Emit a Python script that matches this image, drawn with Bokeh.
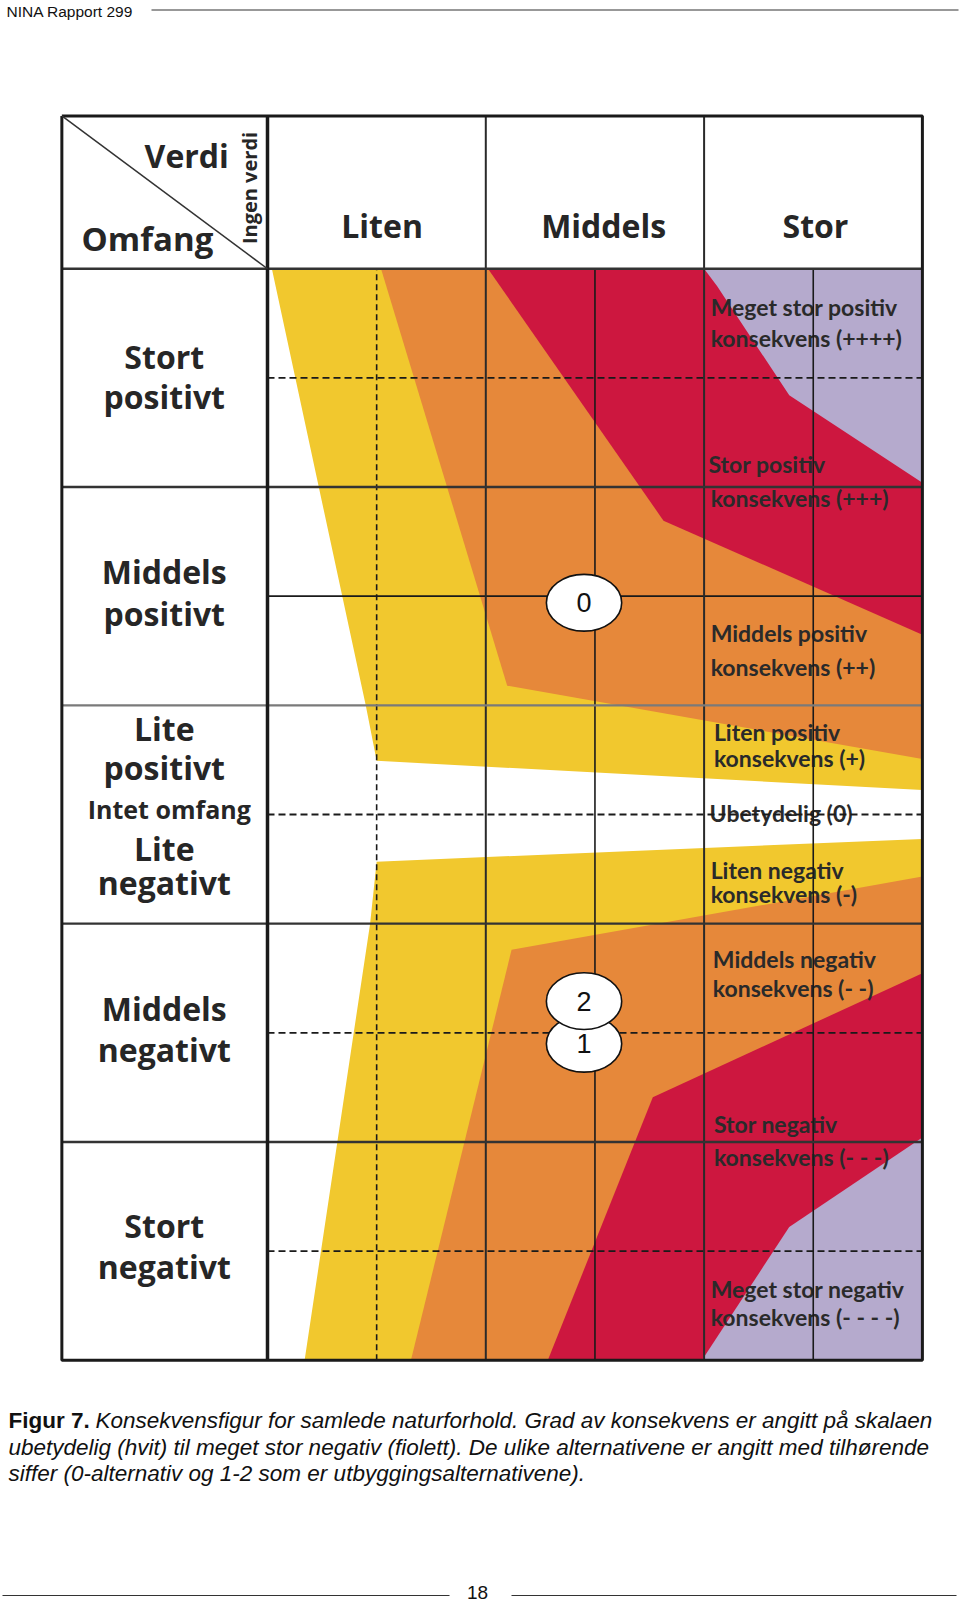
import math
from bokeh.plotting import figure
from bokeh.models import Range1d
from bokeh.core.properties import value
from bokeh.embed import file_html
from bokeh.resources import INLINE

# ---------------- data (grid units: 1 column = 1 x unit, 1 row = 1 y unit) ----------------
verdi_labels = ["Liten", "Middels", "Stor"]
verdi_label_x = [0.525, 1.54, 2.51]

omfang_labels = ["Stort", "positivt", "Middels", "positivt", "Lite", "positivt",
                 "Lite", "negativt", "Middels", "negativt", "Stort", "negativt"]
omfang_label_y = [2.10, 1.914, 1.115, 0.922, 0.395, 0.216,
                  -0.155, -0.311, -0.889, -1.077, -1.881, -2.07]
intet_label = "Intet omfang"
intet_label_y = 0.024

konsekvens_labels = ["Meget stor positiv", "konsekvens (++++)",
                     "Stor positiv", "konsekvens  (+++)",
                     "Middels positiv", "konsekvens (++)",
                     "Liten positiv", "konsekvens (+)",
                     "Ubetydelig (0)",
                     "Liten negativ", "konsekvens (-)",
                     "Middels negativ", " konsekvens (- -)",
                     "Stor negativ", "konsekvens (- - -)",
                     "Meget stor negativ", "konsekvens  (- - - -)"]
konsekvens_label_x = [2.03, 2.03, 2.02, 2.03, 2.03, 2.03, 2.045, 2.045, 2.025,
                      2.03, 2.03, 2.04, 2.04, 2.045, 2.045, 2.03, 2.03]
konsekvens_label_y = [2.324, 2.183, 1.604, 1.449, 0.833, 0.677, 0.376, 0.259, 0.005,
                      -0.254, -0.362, -0.663, -0.795, -1.416, -1.571, -2.173, -2.300]

# consequence zones (polygons in grid units)
zone_colors = ["#F1C82E", "#E6883A", "#CD173F", "#B5AACD",
               "#F1C82E", "#E6883A", "#CD173F", "#B5AACD"]
yellow_pos_x = [0.02, 3.0, 3.0, 0.5, 0.45]
yellow_pos_y = [2.5, 2.5, 0.112, 0.246, 0.5]
orange_pos_x = [0.52, 3.0, 3.0, 1.098]
orange_pos_y = [2.5, 2.5, 0.254, 0.59]
red_pos_x = [1.01, 3.0, 3.0, 1.814]
red_pos_y = [2.5, 2.5, 0.823, 1.346]
purple_pos_x = [2.0, 3.0, 3.0, 2.39, 2.06]
purple_pos_y = [2.5, 2.5, 1.52, 1.92, 2.42]
yellow_neg_x = [0.5, 3.0, 3.0, 0.17, 0.47]
yellow_neg_y = [-0.216, -0.112, -2.5, -2.5, -0.5]
orange_neg_x = [1.118, 3.0, 3.0, 0.657]
orange_neg_y = [-0.62, -0.284, -2.5, -2.5]
red_neg_x = [1.765, 3.0, 3.0, 1.284]
red_neg_y = [-1.295, -0.727, -2.5, -2.5]
purple_neg_x = [2.39, 3.0, 3.0, 1.99]
purple_neg_y = [-1.89, -1.48, -2.5, -2.5]

# alternatives
alt_labels = ["1", "2", "0"]
alt_x = [1.45, 1.45, 1.45]
alt_y = [-1.05, -0.855, 0.97]

# grid structure
col_edges = [1, 2]
col_mids = [0.5, 1.5, 2.5]
col_mid_dash = ["6 4", "solid", "solid"]
row_edges = [2.5, 1.5, 0.5, -0.5, -1.5]
row_edge_color = ["#333333", "#333333", "#7a7a7a", "#333333", "#333333"]
row_mids = [2, 1, 0, -1, -2]
row_mid_dash = ["7 4", "solid", "7 4", "7 4", "7 4"]
table_left, table_right, table_top, table_bottom = -0.942, 3.0, 3.2, -2.5

caption_lines = [
    "Konsekvensfigur for samlede naturforhold. Grad av konsekvens er angitt på skalaen",
    "ubetydelig (hvit) til meget stor negativ (fiolett). De ulike alternativene er angitt med tilhørende",
    "siffer (0-alternativ og 1-2 som er utbyggingsalternativene).",
]

# ---------------- page mapping ----------------
W, H = 960, 1604
X0, CW = 267.0, 218.3   # page px of x=0, px per column
Y0, RH = 814.0, 218.3   # page px of y=0, px per row


def page_x(px):
    return (px - X0) / CW


def page_y(py):
    return (Y0 - py) / RH


p = figure(width=W, height=H, output_backend="svg", toolbar_location=None,
           x_range=Range1d(page_x(0), page_x(W)),
           y_range=Range1d(page_y(H), page_y(0)),
           x_axis_location=None, y_axis_location=None, min_border=0)
p.grid.visible = False
p.outline_line_color = None
p.background_fill_color = "white"
p.border_fill_color = "white"

# zones
p.patches(xs=[yellow_pos_x, orange_pos_x, red_pos_x, purple_pos_x,
              yellow_neg_x, orange_neg_x, red_neg_x, purple_neg_x],
          ys=[yellow_pos_y, orange_pos_y, red_pos_y, purple_pos_y,
              yellow_neg_y, orange_neg_y, red_neg_y, purple_neg_y],
          fill_color=zone_colors, line_color=None)

TXT = "#262626"
HF = value("Open Sans")

# header texts
p.text(x=verdi_label_x, y=[2.70] * 3, text=verdi_labels, text_font=HF, text_font_style="bold",
       text_font_size="32px", text_align="center", text_baseline="middle", text_color=TXT)
p.text(x=[-0.37], y=[3.02], text=["Verdi"], text_font=HF, text_font_style="bold",
       text_font_size="32px", text_align="center", text_baseline="middle", text_color=TXT)
p.text(x=[-0.55], y=[2.64], text=["Omfang"], text_font=HF, text_font_style="bold",
       text_font_size="33px", text_align="center", text_baseline="middle", text_color=TXT)
p.text(x=[-0.082], y=[2.87], text=["Ingen verdi"], angle=math.pi / 2, text_font=HF,
       text_font_style="bold", text_font_size="20px", text_align="center",
       text_baseline="middle", text_color=TXT)

# row labels
p.text(x=[-0.473] * len(omfang_labels), y=omfang_label_y, text=omfang_labels, text_font=HF,
       text_font_style="bold", text_font_size="32px", text_align="center",
       text_baseline="middle", text_color=TXT)
p.text(x=[-0.45], y=[intet_label_y], text=[intet_label], text_font=HF, text_font_style="bold",
       text_font_size="25px", text_align="center", text_baseline="middle", text_color=TXT)

# consequence labels
p.text(x=konsekvens_label_x, y=konsekvens_label_y, text=konsekvens_labels,
       text_font=value("Lato"), text_font_style="bold",
       text_font_size="23px", text_align="left", text_baseline="middle", text_color="#2a2a2a")

# mid lines
for xm, d in zip(col_mids, col_mid_dash):
    p.line(x=[xm, xm], y=[table_bottom, 2.5], line_color="#1a1a1a", line_width=1.6, line_dash=d)
for ym, d in zip(row_mids, row_mid_dash):
    p.line(x=[0, table_right], y=[ym, ym], line_color="#1a1a1a", line_width=1.8, line_dash=d)

# cell edges
for xe in col_edges:
    p.line(x=[xe, xe], y=[table_bottom, table_top], line_color="#2a2a2a", line_width=2)
for ye, c in zip(row_edges, row_edge_color):
    p.line(x=[table_left, table_right], y=[ye, ye], line_color=c, line_width=2.4)
p.line(x=[0, 0], y=[table_bottom, table_top], line_color="#1a1a1a", line_width=3.5)
p.line(x=[table_left, table_right, table_right, table_left, table_left],
       y=[table_top, table_top, table_bottom, table_bottom, table_top],
       line_color="#1a1a1a", line_width=3)
p.line(x=[table_left, 0], y=[table_top, 2.5], line_color="#333333", line_width=1.5)

# alternatives
p.ellipse(x=alt_x, y=alt_y, width=0.345, height=0.26, fill_color="white",
          line_color="#111111", line_width=1.6)
p.text(x=alt_x, y=alt_y, text=alt_labels, text_font=value("Liberation Sans"),
       text_font_size="27px", text_align="center", text_baseline="middle", text_color="#111111")

# page header / caption / footer
SF = value("Liberation Sans")
p.text(x=[page_x(6)], y=[page_y(10.5)], text=["NINA Rapport 299"], text_font=SF,
       text_font_size="15.5px", text_align="left", text_baseline="middle", text_color="#111111")
p.line(x=[page_x(151), page_x(958)], y=[page_y(9.5)] * 2, line_color="#333333", line_width=1.2)

p.text(x=[page_x(8)], y=[page_y(1420)], text=["Figur 7."], text_font=SF, text_font_style="bold",
       text_font_size="22.5px", text_align="left", text_baseline="middle", text_color="#111111")
p.text(x=[page_x(95), page_x(8), page_x(8)], y=[page_y(1420), page_y(1446.5), page_y(1473)],
       text=caption_lines, text_font=SF, text_font_style="italic", text_font_size="22.5px",
       text_align="left", text_baseline="middle", text_color="#111111")

p.text(x=[page_x(477)], y=[page_y(1592)], text=["18"], text_font=SF, text_font_size="19px",
       text_align="center", text_baseline="middle", text_color="#111111")
p.line(x=[page_x(2), page_x(449)], y=[page_y(1595)] * 2, line_color="#333333", line_width=1.2)
p.line(x=[page_x(511), page_x(956)], y=[page_y(1595)] * 2, line_color="#333333", line_width=1.2)

open("out.html", "w").write(file_html(p, INLINE))
